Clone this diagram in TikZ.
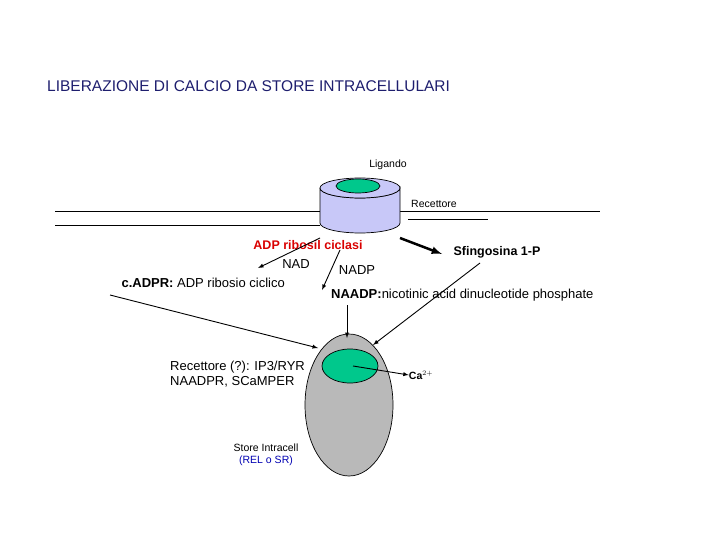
\documentclass[tikz,border=0pt]{standalone}
\usepackage{fontspec}
\setmainfont{Liberation Sans}
\usetikzlibrary{shapes.geometric}
\begin{document}
\begin{tikzpicture}[x=1pt,y=-1pt,
  txt/.style={inner sep=0pt,font=\fontsize{13}{15}\selectfont},
  sm/.style={inner sep=0pt,font=\fontsize{10.5}{12.5}\selectfont},
  arr/.style={-latex,line width=0.9pt},
  thin/.style={line width=0.7pt}]
\useasboundingbox (0,0) rectangle (720,540);
\definecolor{grn}{RGB}{0,200,140}
\definecolor{lav}{RGB}{200,200,248}
\definecolor{ttl}{RGB}{30,30,110}
\node[txt,anchor=west,text=ttl,font=\fontsize{15.5}{17}\selectfont] (title) at (47,86) {LIBERAZIONE DI CALCIO DA STORE INTRACELLULARI};
\node[sm] (lig) at (388,165) {Ligando};
% membrane
\draw[thin] (55,211) -- (320,211) (400,211) -- (600,211) (55,225) -- (320,225) (408,219) -- (488,219);
% cylinder
\draw[thin,fill=lav] (320,188) -- (320,223) arc[start angle=180,end angle=0,x radius=40,y radius=10] -- (400,188) arc[start angle=0,end angle=180,x radius=40,y radius=10];
\draw[thin,fill=lav] (360,188) ellipse[x radius=40,y radius=10];
\node[draw,thin,fill=grn,ellipse,minimum width=44,minimum height=14,inner sep=0] (ligand) at (358,186) {};
\node[sm] (rec) at (434,204) {Recettore};
\node[txt,text=red!85!black,font=\bfseries\fontsize{12.5}{14}\selectfont] (adp) at (308,245) {ADP ribosil ciclasi};
\node[txt] (nad) at (296,264) {NAD};
\node[txt] (nadp) at (357,270) {NADP};
\node[txt,font=\bfseries\fontsize{12.5}{14}\selectfont] (sf) at (497,252) {Sfingosina 1-P};
\node[txt,anchor=east] (cadpr) at (285,283) {\textbf{c.ADPR:} ADP ribosio ciclico};
\node[txt,anchor=west] (naadp) at (331,295) {\textbf{NAADP:}nicotinic acid dinucleotide phosphate};
\coordinate (a1) at (320,238); \coordinate (a1e) at (258,268);
\coordinate (a2) at (340,250); \coordinate (a2e) at (322,290);
\draw[arr] (a1) -- (a1e);
\draw[arr] (a2) -- (a2e);
\coordinate (b1) at (400,238); \coordinate (b1e) at (442,254);
\draw[-latex,line width=2.5pt] (b1) -- (b1e);
% store
\node[draw,thin,fill=gray!55,ellipse,minimum width=88,minimum height=142,inner sep=0] (store) at (349,405) {};
\node[draw,thin,fill=grn,ellipse,minimum width=56,minimum height=34,inner sep=0] (chan) at (350,366) {};
\coordinate (c1) at (110,295); \coordinate (c1e) at (318,348);
\draw[arr] (c1) -- (c1e);
\coordinate (c2) at (347,305); \coordinate (c2e) at (347,338);
\draw[arr] (c2) -- (c2e);
\coordinate (c3) at (480,263); \coordinate (c3e) at (373,345);
\draw[arr] (c3) -- (c3e);
\node[sm,font=\bfseries\fontsize{10.5}{12}\selectfont] (ca) at (421,375) {Ca$^{2+}$};
\draw[arr] (353,366) -- (ca.west);
\node[txt,anchor=west,align=left] (recq) at (170,374) {Recettore (?): IP3/RYR\\NAADPR, SCaMPER};
\node[sm,align=center] (st) at (266,455) {Store Intracell\\\textcolor{blue!70!black}{(REL o SR)}};
\end{tikzpicture}
\end{document}
